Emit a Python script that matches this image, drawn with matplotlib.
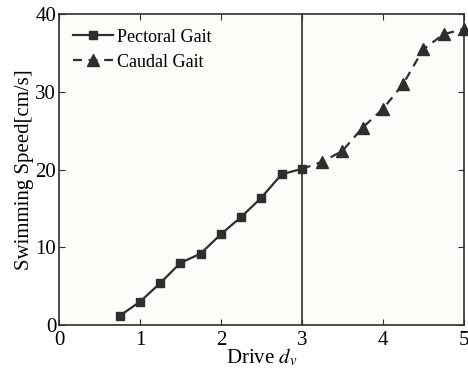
import matplotlib
matplotlib.use('Agg')
import matplotlib.pyplot as plt

# data
pec_x = [0.75, 1.0, 1.25, 1.5, 1.75, 2.0, 2.25, 2.5, 2.75, 3.0]
pec_y = [1.2, 3.0, 5.4, 8.0, 9.2, 11.7, 13.9, 16.4, 19.4, 20.1]
cau_x = [3.0, 3.25, 3.5, 3.75, 4.0, 4.25, 4.5, 4.75, 5.0]
cau_y = [20.1, 21.0, 22.4, 25.4, 27.8, 31.0, 35.5, 37.4, 38.1]

plt.rcParams['font.family'] = ['Liberation Serif', 'DejaVu Serif']
plt.rcParams['mathtext.fontset'] = 'stix'

c = '#2e2e2e'
fig = plt.figure(figsize=(4.68, 3.72), dpi=100)
fig.patch.set_facecolor('white')
ax = fig.add_axes([0.126, 0.126, 0.865, 0.836])
ax.set_facecolor('#fdfcf8')

ax.plot(pec_x, pec_y, '-', color=c, lw=1.6, marker='s', ms=6, label='Pectoral Gait', zorder=3)
ax.plot(cau_x, cau_y, '--', color=c, lw=1.6, marker='^', ms=8, markevery=list(range(1, len(cau_x))),
        dashes=(4, 3), label='Caudal Gait', zorder=2, clip_on=False)
ax.axvline(3, color=c, lw=1.2, zorder=1)

ax.set_xlim(0, 5)
ax.set_ylim(0, 40)
ax.set_xticks([0, 1, 2, 3, 4, 5])
ax.set_yticks([0, 10, 20, 30, 40])
ax.tick_params(direction='in', top=True, right=True, labelsize=15, length=4, color=c)
ax.tick_params(axis='x', pad=4)
ax.tick_params(axis='y', pad=2)
for s in ax.spines.values():
    s.set_color(c)
    s.set_linewidth(1.2)

ax.set_xlabel(r'Drive $d_v$', fontsize=15, labelpad=-2)
ax.set_ylabel('Swimming Speed[cm/s]', fontsize=15, labelpad=1)
ax.legend(loc='upper left', frameon=False, fontsize=13, handlelength=2.2,
          handletextpad=0.2, borderaxespad=0.4, labelspacing=0.45)

fig.savefig('out.png', dpi=100)
